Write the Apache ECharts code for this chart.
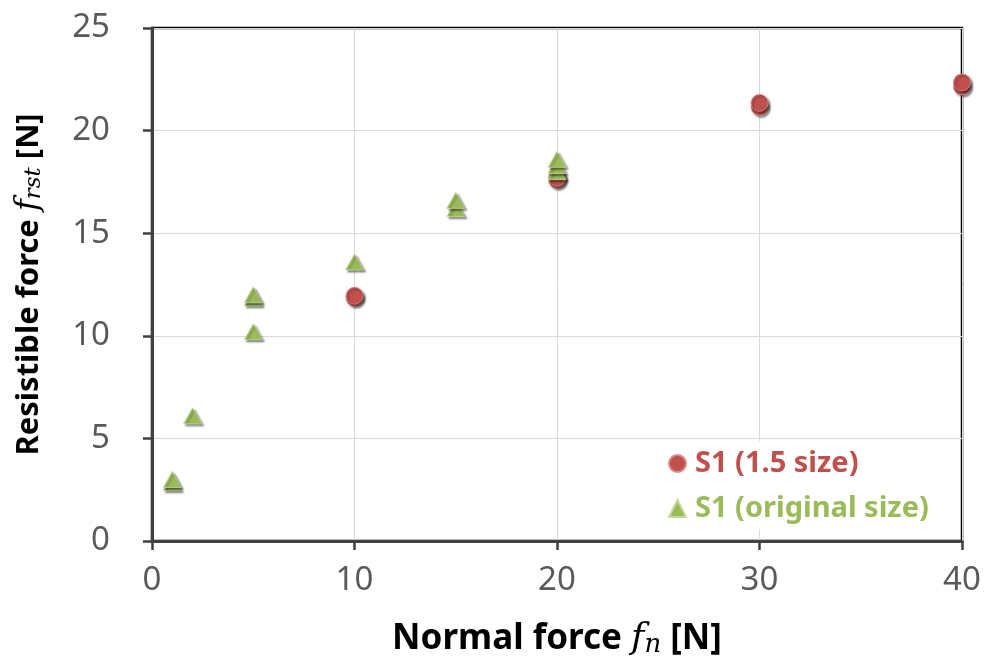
<!DOCTYPE html>
<html>
<head>
<meta charset="utf-8">
<script src="https://cdn.jsdelivr.net/npm/echarts@6/dist/echarts.min.js"></script>
<style>
html,body{margin:0;padding:0;background:#fff;}
#chart{width:987px;height:667px;}
</style>
</head>
<body>
<div id="chart"></div>
<script>
// Data
const xTicks = [0, 10, 20, 30, 40];
const yTicks = [0, 5, 10, 15, 20, 25];
const seriesNames = ['S1 (1.5 size)', 'S1 (original size)'];

const largeX = [10, 10, 20, 20, 30, 30, 40, 40];
const largeY = [11.85, 11.95, 17.6, 17.7, 21.15, 21.35, 22.15, 22.35];

const origX = [1, 1, 2, 5, 5, 5, 10, 15, 15, 20, 20, 20];
const origY = [2.85, 3.0, 6.1, 10.2, 11.85, 12.0, 13.6, 16.2, 16.6, 18.0, 18.3, 18.6];

const RED = '#C0504D';
const GREEN = '#9BBB59';
const toPairs = (xs, ys) => xs.map((x, i) => [x, ys[i]]);

const chart = echarts.init(document.getElementById('chart'), null, {renderer: 'canvas'});
const labelFont = 'Noto Sans';
const titleFont = '"Noto Sans", sans-serif';
const mathFont = '"DejaVu Serif", serif';

function richFor(size) {
  return {
    b: {fontFamily: titleFont, fontSize: size, fontWeight: 'bold', color: '#000'},
    m: {fontFamily: mathFont, fontStyle: 'italic', fontSize: size + 1, color: '#000'},
    s: {fontFamily: mathFont, fontStyle: 'italic', fontSize: Math.round(size * 0.75), color: '#000', padding: [Math.round(size * 0.35), 0, 0, 0]}
  };
}

chart.setOption({
  animation: false,
  backgroundColor: '#ffffff',
  grid: {
    left: 152, right: 25, top: 28, bottom: 126,
    show: true, borderColor: '#000000', borderWidth: 2.5, backgroundColor: 'transparent'
  },
  legend: {
    orient: 'vertical',
    left: 664, top: 441,
    backgroundColor: '#ffffff',
    padding: [8, 24, 6, 4],
    itemGap: 16,
    itemWidth: 17, itemHeight: 17,
    textStyle: {fontFamily: titleFont, fontSize: 29, fontWeight: 'bold', padding: [0, 0, 0, 4]},
    data: [
      {name: seriesNames[0], icon: 'circle', textStyle: {color: RED}},
      {name: seriesNames[1], icon: 'triangle', textStyle: {color: GREEN}}
    ]
  },
  xAxis: {
    type: 'value', min: 0, max: 40, interval: 10,
    name: '{b|Normal force }{m|f}{s|n}{b| [N]}',
    nameLocation: 'middle', nameGap: 79,
    nameTextStyle: {rich: richFor(35)},
    axisLine: {show: true, lineStyle: {color: '#404040', width: 3}},
    axisTick: {show: true, inside: false, length: 9, lineStyle: {color: '#404040', width: 2.5}},
    axisLabel: {margin: 23, color: '#595959', fontFamily: labelFont, fontSize: 33,
      formatter: v => xTicks.includes(v) ? String(v) : ''},
    splitLine: {show: true, lineStyle: {color: '#D9D9D9', width: 1}}
  },
  yAxis: {
    type: 'value', min: 0, max: 25, interval: 5,
    name: '{b|Resistible force }{m|f}{s|rst}{b| [N]}',
    nameLocation: 'middle', nameGap: 106,
    nameTextStyle: {rich: richFor(31)},
    axisLine: {show: true, lineStyle: {color: '#404040', width: 3}},
    axisTick: {show: true, inside: false, length: 9, lineStyle: {color: '#404040', width: 2.5}},
    axisLabel: {margin: 42, color: '#595959', fontFamily: labelFont, fontSize: 33,
      formatter: v => yTicks.includes(v) ? String(v) : ''},
    splitLine: {show: true, lineStyle: {color: '#D9D9D9', width: 1}}
  },
  series: [
    {
      name: seriesNames[0], type: 'scatter', symbol: 'circle', symbolSize: 17,
      data: toPairs(largeX, largeY),
      itemStyle: {color: RED, opacity: 1, borderColor: '#d98a88', borderWidth: 0.8,
        shadowBlur: 2, shadowColor: 'rgba(0,0,0,0.45)', shadowOffsetX: 2, shadowOffsetY: 2},
      z: 3
    },
    {
      name: seriesNames[1], type: 'scatter', symbol: 'triangle', symbolSize: [18, 16],
      data: toPairs(origX, origY),
      itemStyle: {color: GREEN, opacity: 1, borderColor: '#c4d99a', borderWidth: 0.8,
        shadowBlur: 2, shadowColor: 'rgba(0,0,0,0.45)', shadowOffsetX: 2, shadowOffsetY: 2},
      z: 4
    }
  ]
});
</script>
</body>
</html>
